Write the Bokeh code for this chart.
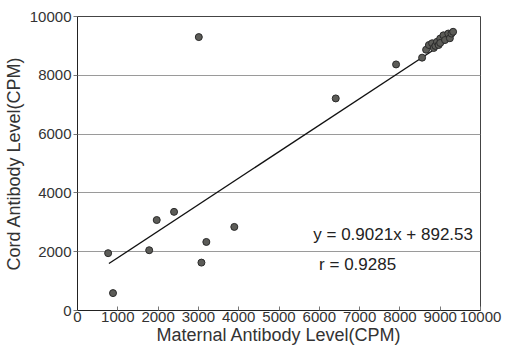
from bokeh.plotting import figure
from bokeh.models import Range1d, FixedTicker, ColumnDataSource
from bokeh.core.properties import value
from bokeh.embed import file_html
from bokeh.resources import INLINE

# Data
maternal = [760, 881, 1779, 1966, 2396, 3010, 3075, 3197, 3891, 6408, 7905, 8551,
            8650, 8720, 8800, 8840, 8880, 8920, 8960, 9000, 9000, 9080, 9120, 9200, 9240, 9280, 9320]
cord = [1950, 592, 2050, 3077, 3355, 9300, 1629, 2331, 2843, 7214, 8370, 8600,
        8870, 9030, 9090, 8930, 9000, 9140, 9030, 9250, 9100, 9360, 9200, 9420, 9260, 9420, 9480]
slope = 0.9021
intercept = 892.53
fit_x = [780, 9250]
x_ticks = [0, 1000, 2000, 3000, 4000, 5000, 6000, 7000, 8000, 9000, 10000]
y_ticks = [0, 2000, 4000, 6000, 8000, 10000]
eq_text = "y = 0.9021x + 892.53"
r_text = "r = 0.9285"

FONT = "Liberation Sans"

p = figure(width=504, height=347, output_backend="svg", toolbar_location=None,
           x_range=Range1d(0, 10000), y_range=Range1d(0, 10000),
           min_border_left=66, min_border_right=24, min_border_top=16, min_border_bottom=30)
p.background_fill_color = "white"
p.border_fill_color = "white"
p.outline_line_color = "#444444"
p.outline_line_width = 1

p.xaxis.ticker = FixedTicker(ticks=x_ticks)
p.yaxis.ticker = FixedTicker(ticks=y_ticks)
p.xaxis.minor_tick_line_color = None
p.yaxis.minor_tick_line_color = None

p.xaxis.axis_label = "Maternal Antibody Level(CPM)"
p.yaxis.axis_label = "Cord Antibody Level(CPM)"
for ax in (p.xaxis, p.yaxis):
    ax.axis_label_text_font = FONT
    ax.axis_label_text_font_size = "18px"
    ax.axis_label_text_font_style = "normal"
    ax.axis_label_text_color = "#333333"
    ax.major_label_text_font = FONT
    ax.major_label_text_font_size = "15px"
    ax.major_label_text_color = "#333333"
    ax.axis_line_color = "#222222"
    ax.major_tick_line_color = "#777777"

p.xaxis.major_tick_in = 4
p.xaxis.major_tick_out = 0
p.xaxis.major_label_standoff = 1
p.xaxis.axis_label_standoff = 0
p.yaxis.major_tick_in = 0
p.yaxis.major_tick_out = 4
p.yaxis.major_label_standoff = 2
p.yaxis.axis_label_standoff = 3

p.xgrid.grid_line_color = None
p.ygrid.grid_line_color = "#9a9a9a"
p.ygrid.grid_line_width = 1

fit_y = [slope * x + intercept for x in fit_x]
p.line(fit_x, fit_y, line_color="#111111", line_width=1.3)

src = ColumnDataSource(data=dict(x=maternal, y=cord))
p.scatter("x", "y", source=src, size=7, fill_color="#5c5c58", line_color="#2a2a2a", line_width=1)

p.text(x=[5850], y=[2575], text=[eq_text], text_font=value(FONT), text_font_size="17px",
       text_color="#222222", text_align="left", text_baseline="middle")
p.text(x=[5995], y=[1580], text=[r_text], text_font=value(FONT), text_font_size="17px",
       text_color="#222222", text_align="left", text_baseline="middle")

open("out.html", "w").write(file_html(p, INLINE))
